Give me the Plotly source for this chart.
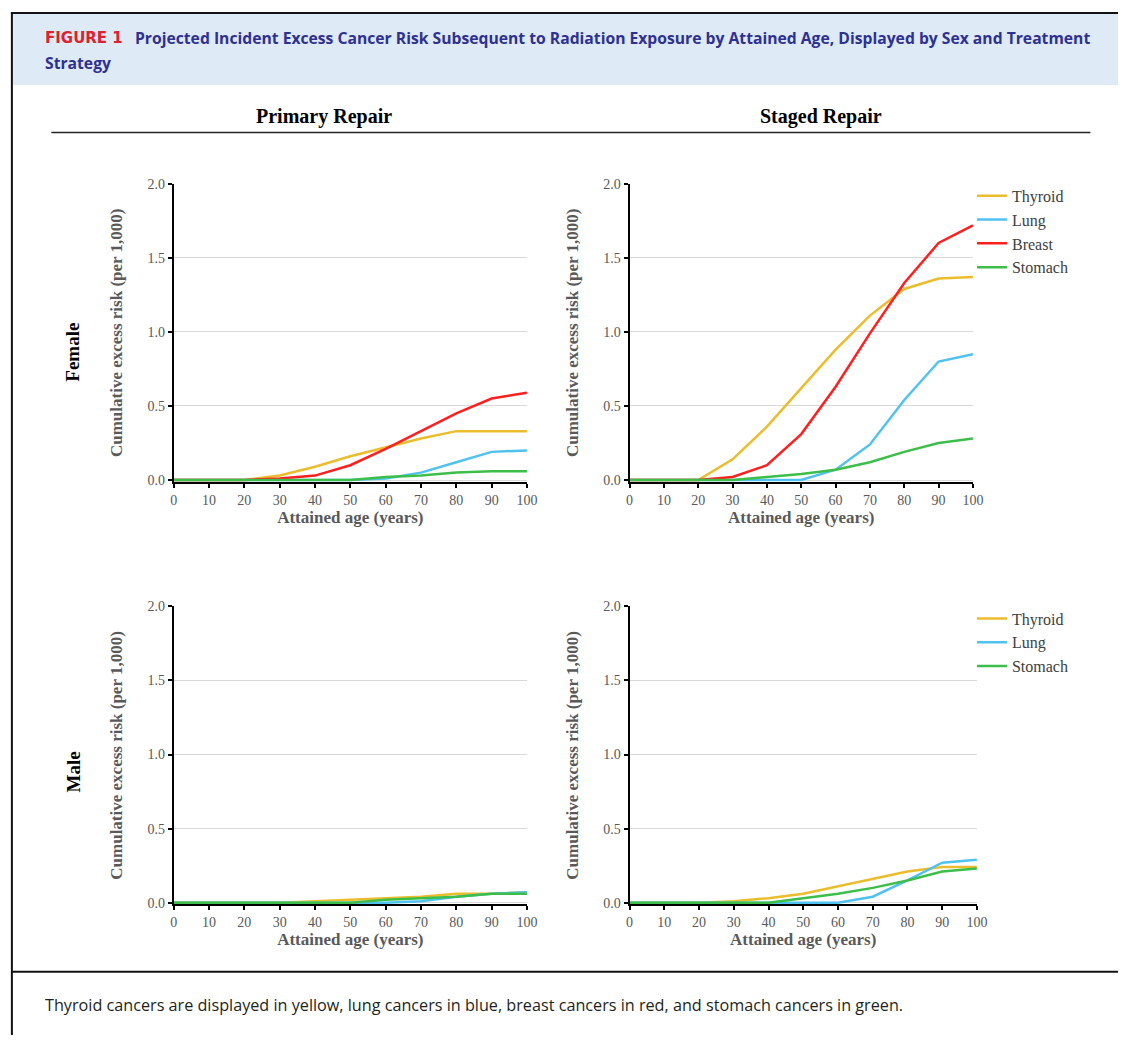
import plotly.graph_objects as go

# ---------------- data ----------------
ages = [0, 10, 20, 30, 40, 50, 60, 70, 80, 90, 100]
x_ticks = [0, 10, 20, 30, 40, 50, 60, 70, 80, 90, 100]
y_ticks = [0.0, 0.5, 1.0, 1.5, 2.0]

female_primary_thyroid = [0, 0, 0, 0.03, 0.09, 0.16, 0.22, 0.28, 0.33, 0.33, 0.33]
female_primary_lung = [0, 0, 0, 0, 0, 0, 0.01, 0.05, 0.12, 0.19, 0.20]
female_primary_breast = [0, 0, 0, 0.01, 0.03, 0.10, 0.21, 0.33, 0.45, 0.55, 0.59]
female_primary_stomach = [0, 0, 0, 0, 0, 0, 0.02, 0.03, 0.05, 0.06, 0.06]

female_staged_thyroid = [0, 0, 0, 0.14, 0.36, 0.62, 0.88, 1.11, 1.29, 1.36, 1.37]
female_staged_lung = [0, 0, 0, 0, 0, 0, 0.07, 0.24, 0.54, 0.80, 0.85]
female_staged_breast = [0, 0, 0, 0.02, 0.10, 0.31, 0.63, 0.99, 1.33, 1.60, 1.72]
female_staged_stomach = [0, 0, 0, 0, 0.02, 0.04, 0.07, 0.12, 0.19, 0.25, 0.28]

male_primary_thyroid = [0, 0, 0, 0, 0.01, 0.02, 0.03, 0.04, 0.06, 0.06, 0.07]
male_primary_lung = [0, 0, 0, 0, 0, 0, 0, 0.01, 0.04, 0.06, 0.07]
male_primary_stomach = [0, 0, 0, 0, 0, 0, 0.02, 0.03, 0.04, 0.06, 0.06]

male_staged_thyroid = [0, 0, 0, 0.01, 0.03, 0.06, 0.11, 0.16, 0.21, 0.24, 0.24]
male_staged_lung = [0, 0, 0, 0, 0, 0, 0, 0.04, 0.15, 0.27, 0.29]
male_staged_stomach = [0, 0, 0, 0, 0, 0.03, 0.06, 0.10, 0.15, 0.21, 0.23]

colors = {"Thyroid": "#EBBD2D", "Lung": "#4FC2F0", "Breast": "#FF1F1F", "Stomach": "#3DBE4A"}

column_titles = ["Primary Repair", "Staged Repair"]
row_titles = ["Female", "Male"]
x_title = "Attained age (years)"
y_title = "Cumulative excess risk (per 1,000)"
fig_label = "FIGURE 1"
fig_title_1 = "Projected Incident Excess Cancer Risk Subsequent to Radiation Exposure by Attained Age, Displayed by Sex and Treatment"
fig_title_2 = "Strategy"
caption = "Thyroid cancers are displayed in yellow, lung cancers in blue, breast cancers in red, and stomach cancers in green."

panels = [
    ("", {"Thyroid": female_primary_thyroid, "Lung": female_primary_lung,
          "Breast": female_primary_breast, "Stomach": female_primary_stomach}, None),
    ("2", {"Thyroid": female_staged_thyroid, "Lung": female_staged_lung,
           "Breast": female_staged_breast, "Stomach": female_staged_stomach}, "legend"),
    ("3", {"Thyroid": male_primary_thyroid, "Lung": male_primary_lung,
           "Stomach": male_primary_stomach}, None),
    ("4", {"Thyroid": male_staged_thyroid, "Lung": male_staged_lung,
           "Stomach": male_staged_stomach}, "legend2"),
]

# ---------------- layout helpers ----------------
W, H = 1129, 1041


def xd(px):
    return px / W


def yd(py):
    return 1 - py / H


YMIN = -0.012
# pixel boxes: (x at 0, x at 100, y at 2.0, y at 0.0)
boxes = [
    (172, 530, 179, 479),
    (634, 982, 179, 479),
    (172, 530, 607, 907),
    (634, 986, 607, 907),
]

fig = go.Figure()

serif = "Liberation Serif, Times New Roman, serif"
tick_font = dict(family=serif, size=14, color="#595959")
title_font = dict(family=serif, size=17, color="#595959")

for (suffix, series, leg), (x0, x1, ytop, yzero) in zip(panels, boxes):
    for name, vals in series.items():
        fig.add_trace(go.Scatter(
            x=ages, y=vals, mode="lines", name=name,
            line=dict(color=colors[name], width=2.5),
            xaxis="x" + suffix, yaxis="y" + suffix,
            showlegend=leg is not None,
            legend=leg if leg else "legend",
            hoverinfo="skip",
        ))
    ybot = yzero + (-YMIN) * (yzero - ytop) / 2.0
    fig.layout["xaxis" + suffix] = dict(
        domain=[xd(x0), xd(x1)], anchor="y" + suffix, range=[0, 100],
        tickvals=x_ticks, ticks="outside", ticklen=4, tickwidth=1.5, tickcolor="#000",
        showline=True, linecolor="#000", linewidth=2, showgrid=False, zeroline=False,
        tickfont=tick_font, title=dict(text="<b>" + x_title + "</b>", font=title_font, standoff=3),
        fixedrange=True,
    )
    fig.layout["yaxis" + suffix] = dict(
        domain=[yd(ybot), yd(ytop)], anchor="x" + suffix, range=[YMIN, 2.0],
        tickvals=y_ticks, tickformat=".1f", ticks="outside", ticklen=4, tickwidth=1.5, tickcolor="#000",
        showline=True, linecolor="#000", linewidth=2, showgrid=True, gridcolor="#D9D9D9", gridwidth=1,
        zeroline=False, tickfont=tick_font,
        title=dict(text="<b>" + y_title + "</b>", font=title_font, standoff=20),
        fixedrange=True,
    )

legend_style = dict(
    font=dict(family=serif, size=16, color="#404040"), bgcolor="rgba(0,0,0,0)",
    borderwidth=0, itemwidth=30, tracegroupgap=0, xanchor="left", yanchor="top",
)
fig.update_layout(
    legend=dict(x=xd(981), y=yd(174), **legend_style),
    legend2=dict(x=xd(981), y=yd(602), **legend_style),
)

shapes = [
    # header band
    dict(type="rect", xref="paper", yref="paper", x0=xd(9), x1=1.0, y0=yd(79), y1=yd(7),
         fillcolor="#DEEAF6", line=dict(width=0), layer="below"),
    # top border
    dict(type="line", xref="paper", yref="paper", x0=xd(7), x1=1, y0=yd(6), y1=yd(6),
         line=dict(color="#111", width=2)),
    # left border
    dict(type="line", xref="paper", yref="paper", x0=xd(8), x1=xd(8), y0=0, y1=yd(5),
         line=dict(color="#111", width=2)),
    # rule under column titles
    dict(type="line", xref="paper", yref="paper", x0=xd(48), x1=xd(1101), y0=yd(127), y1=yd(127),
         line=dict(color="#222", width=1.5)),
    # caption separator
    dict(type="line", xref="paper", yref="paper", x0=xd(8), x1=1.0, y0=yd(977), y1=yd(977),
         line=dict(color="#111", width=2)),
]
fig.update_layout(shapes=shapes)

sans = "Open Sans, Noto Sans, sans-serif"
annotations = [
    dict(text="<b>" + fig_label + "</b>", x=xd(40), y=yd(31), xanchor="left", yanchor="middle",
         font=dict(family="DejaVu Sans, sans-serif", size=15, color="#E0202E")),
    dict(text="<b>" + fig_title_1 + "</b>", x=xd(131), y=yd(31), xanchor="left", yanchor="middle",
         font=dict(family=sans, size=15.7, color="#2E3192")),
    dict(text="<b>" + fig_title_2 + "</b>", x=xd(40), y=yd(57), xanchor="left", yanchor="middle",
         font=dict(family=sans, size=15.7, color="#2E3192")),
    dict(text="<b>" + column_titles[0] + "</b>", x=xd(324), y=yd(111), xanchor="center", yanchor="middle",
         font=dict(family=serif, size=20, color="#000")),
    dict(text="<b>" + column_titles[1] + "</b>", x=xd(828), y=yd(111), xanchor="center", yanchor="middle",
         font=dict(family=serif, size=20, color="#000")),
    dict(text="<b>" + row_titles[0] + "</b>", x=xd(70), y=yd(350), xanchor="center", yanchor="middle",
         textangle=-90, font=dict(family=serif, size=19, color="#000")),
    dict(text="<b>" + row_titles[1] + "</b>", x=xd(70), y=yd(775), xanchor="center", yanchor="middle",
         textangle=-90, font=dict(family=serif, size=19, color="#000")),
    dict(text=caption, x=xd(40), y=yd(1011), xanchor="left", yanchor="middle",
         font=dict(family=sans, size=16.2, color="#231F20")),
]
for a in annotations:
    a.update(xref="paper", yref="paper", showarrow=False)
fig.update_layout(annotations=annotations)

fig.update_layout(
    width=W, height=H, margin=dict(l=0, r=0, t=0, b=0),
    paper_bgcolor="white", plot_bgcolor="white", showlegend=True,
)

page_css = ("document.documentElement.style.margin='0';document.body.style.margin='0';"
            "document.documentElement.style.overflow='hidden';document.body.style.overflow='hidden';")
fig.write_html("out.html", config={"displayModeBar": False}, post_script=page_css)
